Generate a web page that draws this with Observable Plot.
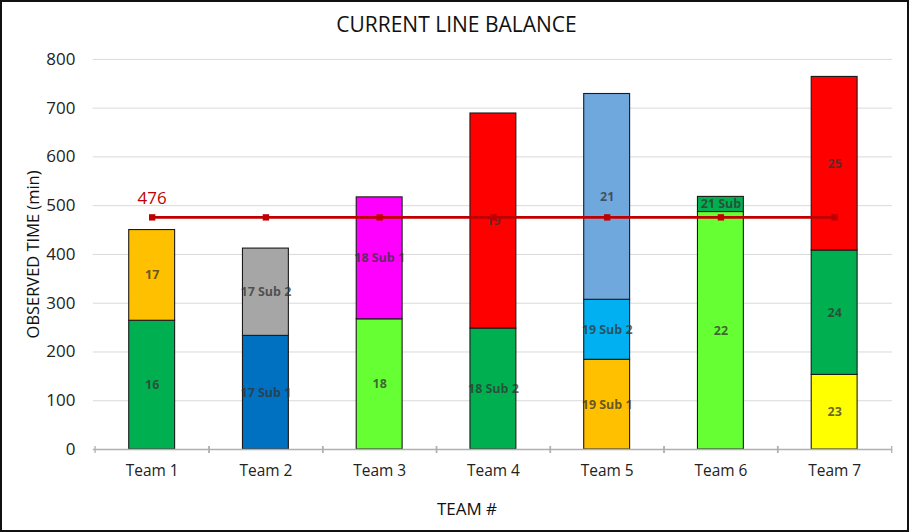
<!DOCTYPE html>
<html>
<head>
<meta charset="utf-8">
<script src="https://cdn.jsdelivr.net/npm/d3@7"></script>
<script src="https://cdn.jsdelivr.net/npm/@observablehq/plot@0.6"></script>
<style>
  html, body { margin: 0; padding: 0; background: #fff; }
  #wrap { position: relative; width: 909px; height: 532px; box-sizing: border-box; border: 2px solid #111; overflow: hidden; background:#fff; }
  #title { position: absolute; left: 0; width: 909px; top: 8px; text-align: center; font: 21px "Open Sans", sans-serif; color: #111; }
  #chart { position: absolute; left: -2px; top: -2px; }
</style>
</head>
<body>
<div id="wrap">
  <div id="chart"></div>
  <div id="title">CURRENT LINE BALANCE</div>
</div>
<script>
const teams = ["Team 1", "Team 2", "Team 3", "Team 4", "Team 5", "Team 6", "Team 7"];

const segTeam  = ["Team 1", "Team 1", "Team 2", "Team 2", "Team 3", "Team 3", "Team 4", "Team 4", "Team 5", "Team 5", "Team 5", "Team 6", "Team 6", "Team 7", "Team 7", "Team 7"];
const segLabel = ["16", "17", "17 Sub 1", "17 Sub 2", "18", "18 Sub 1", "18 Sub 2", "19", "19 Sub 1", "19 Sub 2", "21", "22", "21 Sub", "23", "24", "25"];
const segValue = [264, 186, 233, 179, 267, 250, 248, 441, 184, 123, 422, 487, 31, 153, 255, 356];
const segColor = ["#00B050", "#FFC000", "#0070C0", "#A6A6A6", "#66FF33", "#FF00FF", "#00B050", "#FF0000", "#FFC000", "#00B0F0", "#6FA8DC", "#66FF33", "#00B050", "#FFFF00", "#00B050", "#FF0000"];

const avgValues = [476, 476, 476, 476, 476, 476, 476];
const yTicks = [0, 100, 200, 300, 400, 500, 600, 700, 800];

const segments = segTeam.map((t, i) => ({team: t, label: segLabel[i], value: segValue[i], color: segColor[i]}));
const avg = teams.map((t, i) => ({team: t, value: avgValues[i]}));

const W = 909, H = 532, ML = 93, MR = 15, MT = 59, MB = 82;
const step = (W - ML - MR) / teams.length;
const font = '"Open Sans", sans-serif';

const chart = Plot.plot({
  width: W, height: H,
  marginLeft: ML, marginRight: MR, marginTop: MT, marginBottom: MB,
  style: {fontFamily: font, background: "transparent", color: "#222"},
  x: {domain: teams, paddingInner: 0.6, paddingOuter: 0.3, label: null},
  y: {domain: [0, 800], label: null},
  color: {type: "identity"},
  marks: [
    Plot.gridY(yTicks, {stroke: "#d9d9d9", strokeOpacity: 1, strokeWidth: 1}),
    Plot.axisY(yTicks, {tickSize: 0, tickPadding: 18, fontSize: 17, fill: "#222", label: "OBSERVED TIME (min)", labelAnchor: "center", labelArrow: "none", labelOffset: 66}),
    Plot.barY(segments, Plot.stackY({x: "team", y: "value", fill: "color", stroke: "#1a1a1a", strokeWidth: 1.1})),
    Plot.text(segments, Plot.stackY({x: "team", y: "value", text: "label", fill: "#333", fillOpacity: 0.75, fontSize: 12.5, fontWeight: "bold"})),
    Plot.ruleY([0], {stroke: "#b0b0b0", strokeWidth: 1.5}),
    Plot.axisX(teams, {tickSize: 0, tickPadding: 16, fontSize: 15.5, fill: "#222", label: "TEAM #", labelAnchor: "center", labelArrow: "none", labelOffset: 66}),
    Plot.axisX(teams, {tickSize: 7, text: null, label: null, dx: -step / 2, dy: -3, stroke: "#b0b0b0", strokeWidth: 1.3}),
    Plot.axisX(teams, {tickSize: 7, text: null, label: null, dx: step / 2, dy: -3, stroke: "#b0b0b0", strokeWidth: 1.3}),
    Plot.lineY(avg, {x: "team", y: "value", stroke: "#C00000", strokeWidth: 3}),
    Plot.dot(avg, {x: "team", y: "value", symbol: "square", r: 3.6, fill: "#C00000", stroke: "none"}),
    Plot.text(avg.slice(0, 1), {x: "team", y: "value", text: d => String(d.value), fill: "#C00000", fontSize: 17, dy: -19})
  ]
});
chart.querySelectorAll('[aria-label="y-axis label"] text').forEach(t => {
  t.setAttribute("font-size", "16.5");
  t.setAttribute("fill", "#111");
});
chart.querySelectorAll('[aria-label="x-axis label"] text').forEach(t => {
  t.setAttribute("font-size", "17");
  t.setAttribute("fill", "#111");
  t.setAttribute("dx", "-26");
});
document.getElementById("chart").appendChild(chart);
</script>
</body>
</html>
